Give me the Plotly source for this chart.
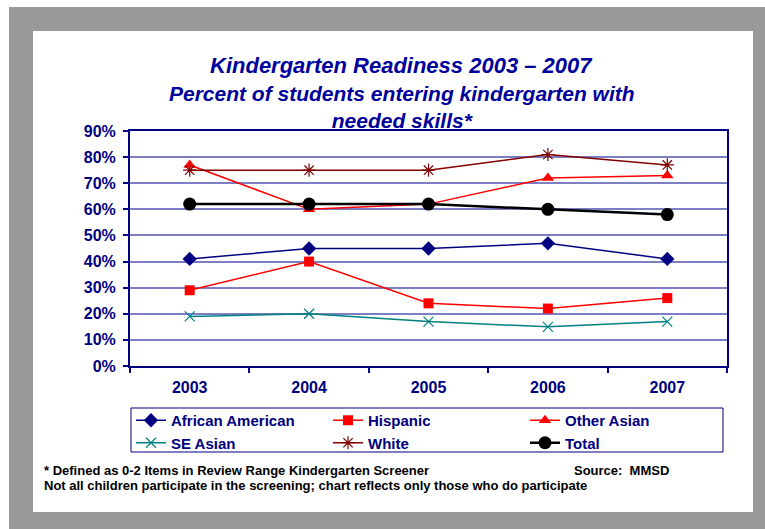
import plotly.graph_objects as go

# ---- data -------------------------------------------------------------
years = ["2003", "2004", "2005", "2006", "2007"]

african_american = [41, 45, 45, 47, 41]
hispanic = [29, 40, 24, 22, 26]
other_asian = [77, 60, 62, 72, 73]
se_asian = [19, 20, 17, 15, 17]
white = [75, 75, 75, 81, 77]
total = [62, 62, 62, 60, 58]

y_ticks = [0, 10, 20, 30, 40, 50, 60, 70, 80, 90]
y_tick_labels = [f"{v}%" for v in y_ticks]

# ---- page geometry (pixels) ------------------------------------------
W, H = 765, 529
L, R, T, B = 130, 727, 131, 366          # plot area edges
PW, PH = R - L, B - T

def fx(x):
    return (x - L) / PW

def fy(y):
    return (B - y) / PH

FONT = "Liberation Sans, Arial, sans-serif"
NAVY = "#000080"
TITLE_BLUE = "#00009c"

series = [
    ("African American", african_american, NAVY, "diamond", 11, 1.5),
    ("Hispanic", hispanic, "#ff0000", "square", 10, 1.5),
    ("Other Asian", other_asian, "#ff0000", "triangle-up", 11, 1.5),
    ("SE Asian", se_asian, "#008080", "x-thin", 10, 1.5),
    ("White", white, "#800000", "asterisk", 11, 1.5),
    ("Total", total, "#000000", "circle", 13, 2.5),
]

fig = go.Figure()
for name, vals, color, sym, size, lw in series:
    open_sym = sym in ("x-thin", "asterisk")
    fig.add_trace(go.Scatter(
        x=years, y=vals, name=name, mode="lines+markers",
        line=dict(color=color, width=lw),
        marker=dict(symbol=sym, size=size, color=color,
                    line=dict(color=color, width=1.2 if open_sym else 0)),
    ))

shapes = [
    # gray frame and white panel behind the chart
    dict(type="rect", xref="paper", yref="paper", layer="below",
         x0=fx(9), x1=fx(W + 5), y0=fy(7), y1=fy(H + 5),
         fillcolor="#999999", line=dict(width=0)),
    dict(type="rect", xref="paper", yref="paper", layer="below",
         x0=fx(33), x1=fx(753), y0=fy(31), y1=fy(512),
         fillcolor="#ffffff", line=dict(width=0)),
    # frame around the legend entries
    dict(type="rect", xref="paper", yref="paper", layer="below",
         x0=fx(131), x1=fx(723), y0=fy(408), y1=fy(452),
         fillcolor="rgba(0,0,0,0)", line=dict(color=NAVY, width=1)),
]

annotations = [
    dict(text="<b><i>Kindergarten Readiness 2003 \u2013 2007</i></b>",
         x=fx(401), y=fy(65), xref="paper", yref="paper",
         xanchor="center", yanchor="middle", showarrow=False,
         font=dict(family=FONT, size=22, color=TITLE_BLUE)),
    dict(text="<b><i>Percent of students entering kindergarten with<br>needed skills*</i></b>",
         x=fx(402), y=fy(107), xref="paper", yref="paper",
         xanchor="center", yanchor="middle", showarrow=False,
         font=dict(family=FONT, size=21, color=TITLE_BLUE)),
    dict(text="<b>* Defined as 0-2 Items in Review Range Kindergarten Screener</b>",
         x=fx(42), y=fy(470), xref="paper", yref="paper",
         xanchor="left", yanchor="middle", showarrow=False,
         font=dict(family=FONT, size=13, color="#000000")),
    dict(text="<b>Source:&nbsp; MMSD</b>",
         x=fx(572), y=fy(470), xref="paper", yref="paper",
         xanchor="left", yanchor="middle", showarrow=False,
         font=dict(family=FONT, size=13, color="#000000")),
    dict(text="<b>Not all children participate in the screening; chart reflects only those who do participate</b>",
         x=fx(42), y=fy(485), xref="paper", yref="paper",
         xanchor="left", yanchor="middle", showarrow=False,
         font=dict(family=FONT, size=13, color="#000000")),
]

fig.update_layout(
    width=W, height=H,
    margin=dict(l=L, r=W - R, t=T, b=H - B, pad=0),
    paper_bgcolor="#ffffff", plot_bgcolor="rgba(0,0,0,0)",
    font=dict(family=FONT, color=NAVY),
    shapes=shapes, annotations=annotations,
    showlegend=True,
    legend=dict(
        orientation="h", x=fx(131), y=fy(404), xanchor="left", yanchor="top",
        borderwidth=0, bgcolor="rgba(0,0,0,0)",
        entrywidth=152, entrywidthmode="pixels",
        font=dict(family=FONT, size=15, color=NAVY, weight="bold"),
        itemwidth=30, traceorder="normal",
    ),
    xaxis=dict(
        type="category", range=[-0.5, 4.5], tickson="boundaries",
        ticks="outside", ticklen=5, tickcolor=NAVY, tickwidth=1.5,
        showline=True, linecolor=NAVY, linewidth=2, mirror=True,
        showgrid=False, zeroline=False,
        tickfont=dict(family=FONT, size=16, color=NAVY, weight="bold"),
        ticklabelstandoff=6,
    ),
    yaxis=dict(
        range=[0, 90], tickmode="array", tickvals=y_ticks, ticktext=y_tick_labels,
        ticks="outside", ticklen=5, tickcolor=NAVY, tickwidth=1.5,
        showline=True, linecolor=NAVY, linewidth=2, mirror=True,
        showgrid=True, gridcolor="#7e7ec4", gridwidth=1.5, zeroline=False,
        tickfont=dict(family=FONT, size=16, color=NAVY, weight="bold"),
        ticklabelstandoff=4,
    ),
)

fig.write_html("out.html")
